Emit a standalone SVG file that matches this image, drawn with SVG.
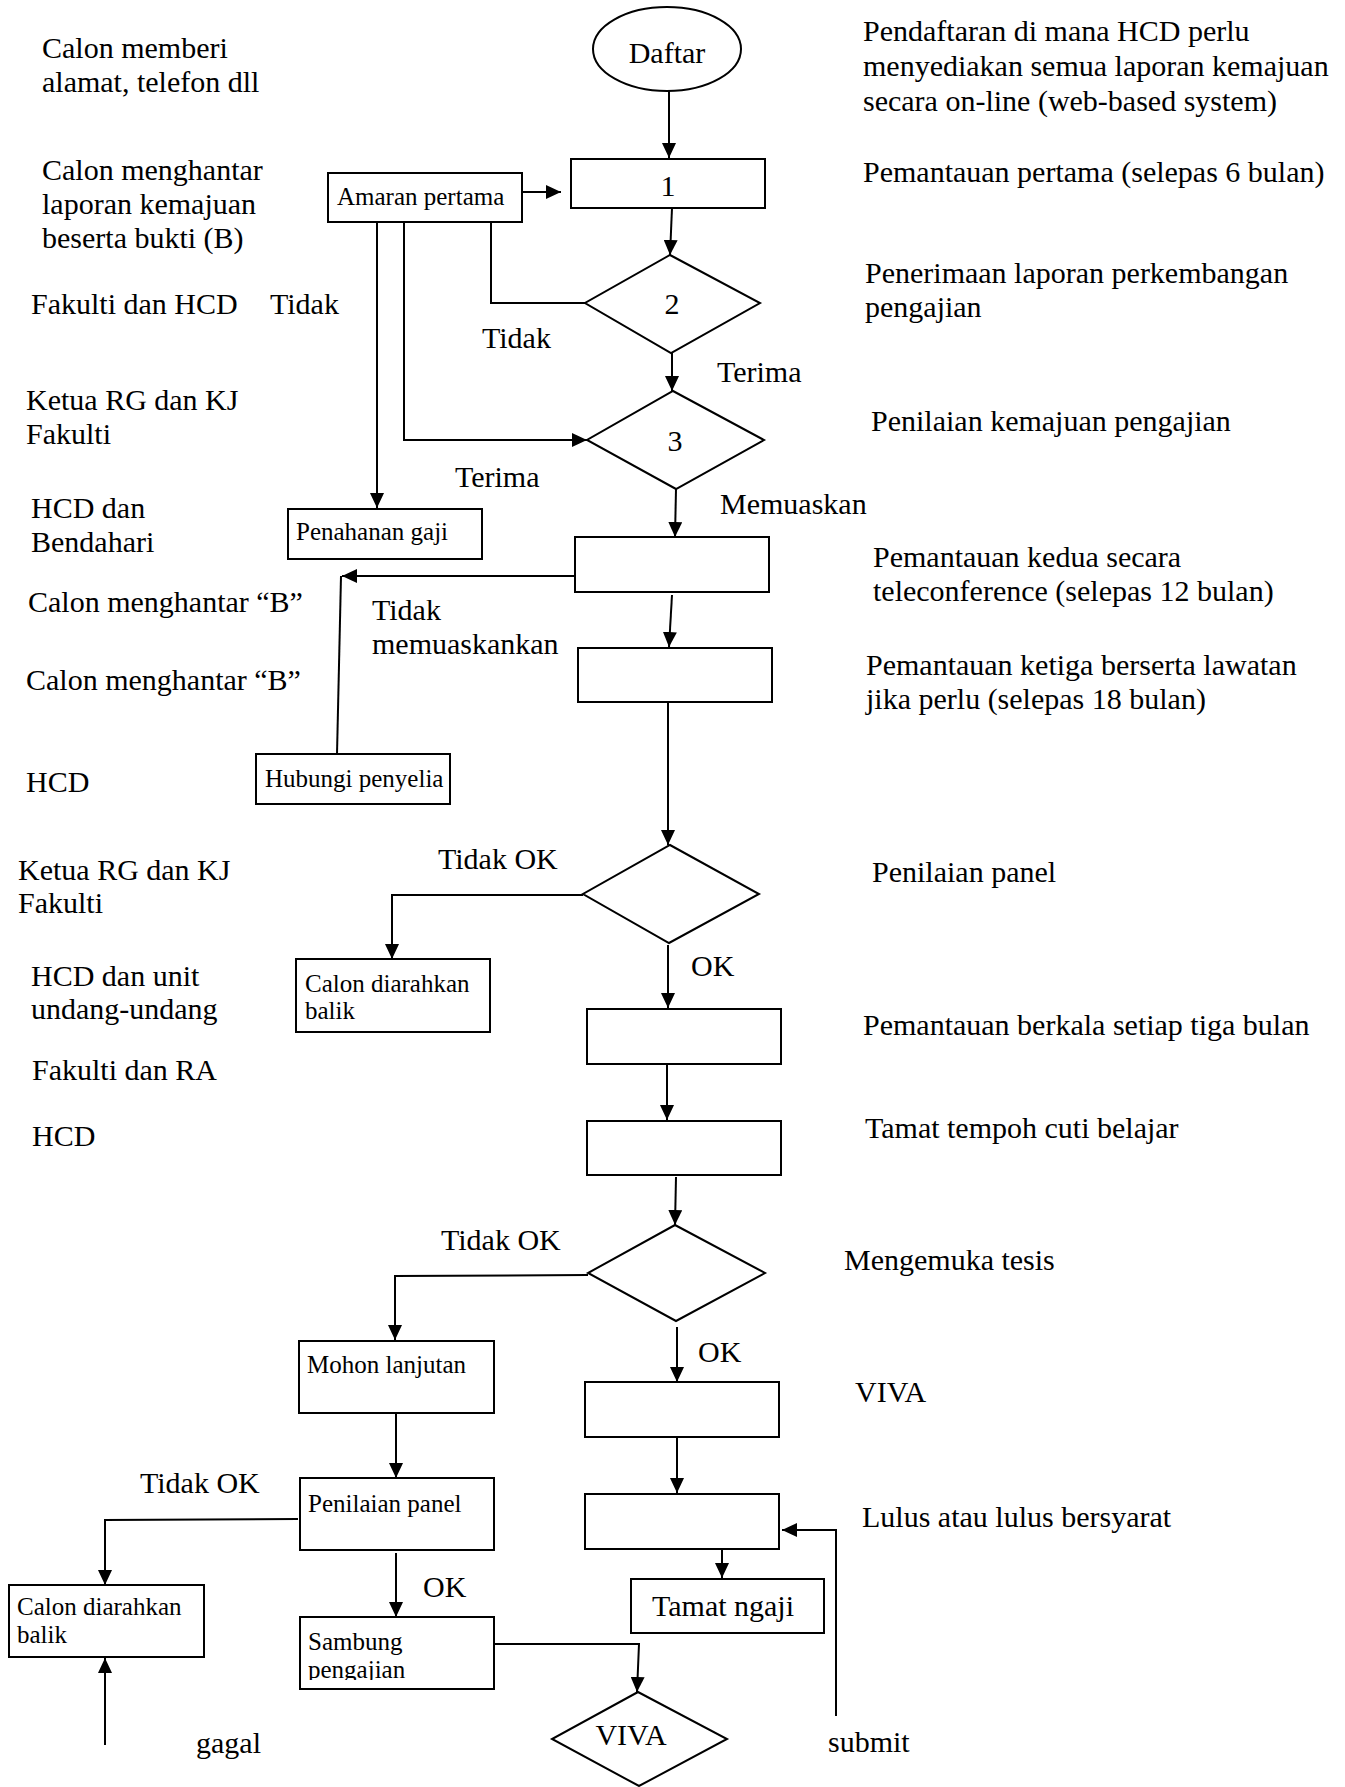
<svg xmlns="http://www.w3.org/2000/svg" width="1345" height="1787" viewBox="0 0 1345 1787">
<style>
text{font-family:"Liberation Serif","Times New Roman",serif;fill:#000}
.t{font-size:30px}
.s{font-size:25px}
.n rect,.n polygon,.n ellipse{fill:#fff;stroke:#000;stroke-width:2}
.c path{fill:none;stroke:#000;stroke-width:2}
.ar{marker-end:url(#ah)}
</style>
<defs>
<marker id="ah" markerUnits="userSpaceOnUse" markerWidth="15" markerHeight="14" refX="15" refY="7" orient="auto">
<path d="M0,0 L15,7 L0,14 z" fill="#000"/>
</marker>
<clipPath id="clipS"><rect x="300" y="1617" width="194" height="63"/></clipPath>
</defs>
<rect width="1345" height="1787" fill="#fff"/>

<g id="labels-left" class="t">
<text x="42" y="58">Calon memberi</text>
<text x="42" y="92">alamat, telefon dll</text>
<text x="42" y="180">Calon menghantar</text>
<text x="42" y="214">laporan kemajuan</text>
<text x="42" y="248">beserta bukti (B)</text>
<text x="31" y="314">Fakulti dan HCD</text>
<text x="26" y="410">Ketua RG dan KJ</text>
<text x="26" y="444">Fakulti</text>
<text x="31" y="518">HCD dan</text>
<text x="31" y="552">Bendahari</text>
<text x="28" y="612">Calon menghantar “B”</text>
<text x="26" y="690">Calon menghantar “B”</text>
<text x="26" y="792">HCD</text>
<text x="18" y="880">Ketua RG dan KJ</text>
<text x="18" y="913">Fakulti</text>
<text x="31" y="986">HCD dan unit</text>
<text x="31" y="1019">undang-undang</text>
<text x="32" y="1080">Fakulti dan RA</text>
<text x="32" y="1146">HCD</text>
</g>

<g id="labels-right" class="t">
<text x="863" y="41">Pendaftaran di mana HCD perlu</text>
<text x="863" y="76">menyediakan semua laporan kemajuan</text>
<text x="863" y="111">secara on-line (web-based system)</text>
<text x="863" y="182">Pemantauan pertama (selepas 6 bulan)</text>
<text x="865" y="283">Penerimaan laporan perkembangan</text>
<text x="865" y="317">pengajian</text>
<text x="871" y="431">Penilaian kemajuan pengajian</text>
<text x="873" y="567">Pemantauan kedua secara</text>
<text x="873" y="601">teleconference (selepas 12 bulan)</text>
<text x="866" y="675">Pemantauan ketiga berserta lawatan</text>
<text x="866" y="709">jika perlu (selepas 18 bulan)</text>
<text x="872" y="882">Penilaian panel</text>
<text x="863" y="1035">Pemantauan berkala setiap tiga bulan</text>
<text x="865" y="1138">Tamat tempoh cuti belajar</text>
<text x="844" y="1270">Mengemuka tesis</text>
<text x="855" y="1402">VIVA</text>
<text x="862" y="1527">Lulus atau lulus bersyarat</text>
</g>

<g id="connectors" class="c">
<path class="ar" d="M669,91 L669,158"/>
<path class="ar" d="M522,192 L561,192"/>
<path class="ar" d="M672,208 L670,255"/>
<path d="M491,222 L491,303 L585,303"/>
<path class="ar" d="M404,222 L404,440 L587,440"/>
<path class="ar" d="M377,222 L377,508"/>
<path class="ar" d="M672,353 L672,391"/>
<path class="ar" d="M676,489 L675,537"/>
<path class="ar" d="M579,576 L342,576"/>
<path d="M341,576 L337,754"/>
<path class="ar" d="M672,595 L669,647"/>
<path class="ar" d="M668,700 L668,845"/>
<path class="ar" d="M583,895 L392,895 L392,959"/>
<path class="ar" d="M668,945 L668,1008"/>
<path class="ar" d="M667,1064 L667,1120"/>
<path class="ar" d="M676,1177 L675,1225"/>
<path class="ar" d="M588,1275 L395,1276 L395,1340"/>
<path class="ar" d="M677,1327 L677,1382"/>
<path class="ar" d="M396,1413 L396,1478"/>
<path class="ar" d="M677,1437 L677,1493"/>
<path class="ar" d="M298,1519 L105,1520 L105,1585"/>
<path class="ar" d="M396,1553 L396,1617"/>
<path class="ar" d="M105,1745 L105,1658"/>
<path class="ar" d="M722,1549 L722,1578"/>
<path class="ar" d="M494,1644 L639,1644 L637,1692"/>
<path class="ar" d="M836,1716 L836,1530 L782,1530"/>
</g>

<g id="connector-labels" class="t">
<text x="270" y="314">Tidak</text>
<text x="482" y="348">Tidak</text>
<text x="717" y="382">Terima</text>
<text x="455" y="487">Terima</text>
<text x="720" y="514">Memuaskan</text>
<text x="372" y="620">Tidak</text>
<text x="372" y="654">memuaskankan</text>
<text x="438" y="869">Tidak OK</text>
<text x="691" y="976">OK</text>
<text x="441" y="1250">Tidak OK</text>
<text x="698" y="1362">OK</text>
<text x="140" y="1493">Tidak OK</text>
<text x="423" y="1597">OK</text>
<text x="196" y="1753">gagal</text>
<text x="828" y="1752">submit</text>
</g>

<g id="node-daftar" class="n"><ellipse cx="667" cy="49" rx="74" ry="42"/><text class="t" x="667" y="63" text-anchor="middle">Daftar</text></g>
<g id="node-1" class="n"><rect x="571" y="159" width="194" height="49"/><text class="t" x="668" y="196" text-anchor="middle">1</text></g>
<g id="node-amaran" class="n"><rect x="328" y="173" width="194" height="49"/><text class="s" x="337" y="205">Amaran pertama</text></g>
<g id="node-2" class="n"><polygon points="670,255 760,303 671,353 585,303"/><text class="t" x="672" y="314" text-anchor="middle">2</text></g>
<g id="node-3" class="n"><polygon points="673,391 764,440 676,489 587,440"/><text class="t" x="675" y="451" text-anchor="middle">3</text></g>
<g id="node-penahanan" class="n"><rect x="288" y="509" width="194" height="50"/><text class="s" x="296" y="540">Penahanan gaji</text></g>
<g id="node-kedua" class="n"><rect x="575" y="537" width="194" height="55"/></g>
<g id="node-ketiga" class="n"><rect x="578" y="648" width="194" height="54"/></g>
<g id="node-hubungi" class="n"><rect x="256" y="754" width="194" height="50"/><text class="s" x="265" y="787">Hubungi penyelia</text></g>
<g id="node-panel" class="n"><polygon points="670,845 759,894 669,943 583,894"/></g>
<g id="node-calon1" class="n"><rect x="296" y="959" width="194" height="73"/><text class="s" x="305" y="992">Calon diarahkan</text><text class="s" x="305" y="1019">balik</text></g>
<g id="node-berkala" class="n"><rect x="587" y="1009" width="194" height="55"/></g>
<g id="node-tamat-tempoh" class="n"><rect x="587" y="1121" width="194" height="54"/></g>
<g id="node-tesis" class="n"><polygon points="675,1225 765,1273 676,1321 588,1273"/></g>
<g id="node-mohon" class="n"><rect x="299" y="1341" width="195" height="72"/><text class="s" x="307" y="1373">Mohon lanjutan</text></g>
<g id="node-viva-box" class="n"><rect x="585" y="1382" width="194" height="55"/></g>
<g id="node-penilaian" class="n"><rect x="300" y="1478" width="194" height="72"/><text class="s" x="308" y="1512">Penilaian panel</text></g>
<g id="node-lulus" class="n"><rect x="585" y="1494" width="194" height="55"/></g>
<g id="node-tamat-ngaji" class="n"><rect x="631" y="1579" width="193" height="54"/><text class="t" x="652" y="1616">Tamat ngaji</text></g>
<g id="node-calon2" class="n"><rect x="9" y="1585" width="195" height="72"/><text class="s" x="17" y="1615">Calon diarahkan</text><text class="s" x="17" y="1643">balik</text></g>
<g id="node-sambung" class="n"><rect x="300" y="1617" width="194" height="72"/><text class="s" x="308" y="1650">Sambung</text><text class="s" x="308" y="1678" clip-path="url(#clipS)">pengajian</text></g>
<g id="node-viva" class="n"><polygon points="638,1692 727,1739 639,1786 552,1739"/><text class="t" x="631" y="1745" text-anchor="middle">VIVA</text></g>
</svg>
